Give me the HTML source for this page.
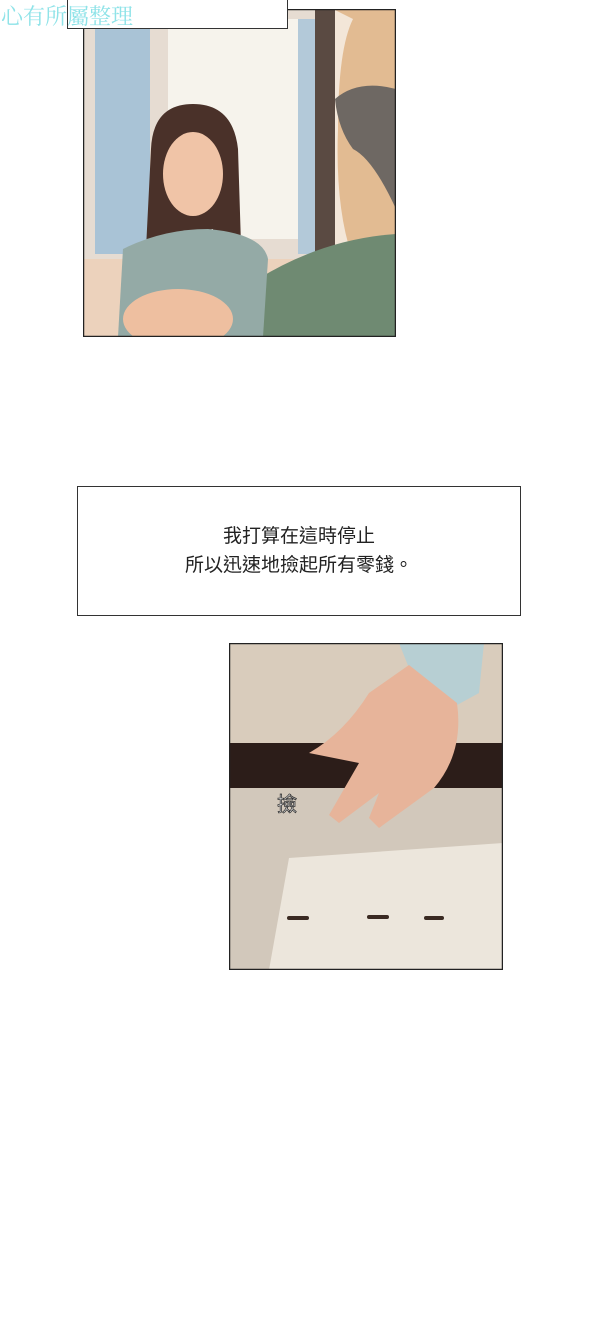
<!DOCTYPE html>
<html><head><meta charset="utf-8">
<style>
body{margin:0;width:600px;height:1333px;background:#fff;position:relative;overflow:hidden;font-family:"Liberation Sans","Noto Sans CJK TC",sans-serif}
.abs{position:absolute}
</style></head><body>
<svg class="abs" style="left:83px;top:9px" width="313" height="328" viewBox="0 0 313 328">
 <rect width="313" height="328" fill="#f3e6d8"/>
 <rect x="0" y="0" width="240" height="250" fill="#e6dcd2"/>
 <rect x="12" y="10" width="55" height="235" fill="#a9c3d6"/>
 <rect x="85" y="10" width="130" height="220" fill="#f6f3ec"/>
 <rect x="215" y="10" width="25" height="235" fill="#b3c9d9"/>
 <rect x="0" y="250" width="313" height="78" fill="#ecd2bc"/>
 <rect x="232" y="0" width="20" height="260" fill="#5a4a42"/>
 <path d="M250 0 L313 0 L313 250 L270 250 Q252 200 255 120 Q255 40 270 10Z" fill="#e2bb92"/>
 <path d="M252 90 Q275 70 313 80 L313 200 Q290 150 270 140 Q255 120 252 90Z" fill="#6e6863"/>
 <path d="M165 328 L175 270 Q240 230 313 225 L313 328Z" fill="#6f8a72"/>
 <path d="M68 140 Q70 95 110 95 Q150 95 155 140 L160 300 L140 300 L130 220 L80 230 L70 300 L60 300Z" fill="#4a3129"/>
 <ellipse cx="110" cy="165" rx="30" ry="42" fill="#f0c4a7"/>
 <path d="M35 328 L40 240 Q80 220 125 220 Q180 225 185 250 L180 328Z" fill="#94aaa6"/>
 <ellipse cx="95" cy="310" rx="55" ry="30" fill="#eebfa0"/>
 <rect x="0.5" y="0.5" width="312" height="327" fill="none" stroke="#222" stroke-width="1.5"/>
</svg>
<div class="abs" style="left:67px;top:-2px;width:219px;height:29px;background:#fff;border:1px solid #333"></div>
<div class="abs" style="left:1px;top:0px;font:22px 'Liberation Serif','Noto Serif CJK SC',serif;color:#8fe3e8">心有所屬整理</div>
<div class="abs" style="left:77px;top:486px;width:444px;height:130px;border:1px solid #333;box-sizing:border-box;text-align:center;font-size:19px;line-height:29px;color:#222;padding-top:35px">我打算在這時停止<br>所以迅速地撿起所有零錢。</div>
<svg class="abs" style="left:229px;top:643px" width="274" height="327" viewBox="0 0 274 327">
 <rect width="274" height="327" fill="#d6ccbf"/>
 <rect width="274" height="100" fill="#d9ccbc"/>
 <rect y="100" width="274" height="45" fill="#2c1d19"/>
 <rect y="145" width="274" height="182" fill="#d2c8bb"/>
 <path d="M60 215 L274 200 L274 327 L40 327Z" fill="#ece6dc"/>
 <path d="M170 0 L255 0 L250 50 L228 62 L180 25Z" fill="#b7cfd3"/>
 <path d="M180 22 L228 60 Q235 110 205 145 L150 185 L140 175 L150 150 L110 180 L100 172 L130 120 L80 110 Q115 90 140 50Z" fill="#e7b49a"/>
 <text x="48" y="168" font-size="20" fill="#fff" stroke="#333" stroke-width="0.8" font-family="Noto Sans CJK TC,sans-serif">撿</text>
 <rect x="58" y="273" width="22" height="4" rx="2" fill="#3a2a22"/>
 <rect x="138" y="272" width="22" height="4" rx="2" fill="#3a2a22"/>
 <rect x="195" y="273" width="20" height="4" rx="2" fill="#3a2a22"/>
 <rect x="0.5" y="0.5" width="273" height="326" fill="none" stroke="#222" stroke-width="1.5"/>
</svg>
</body></html>
